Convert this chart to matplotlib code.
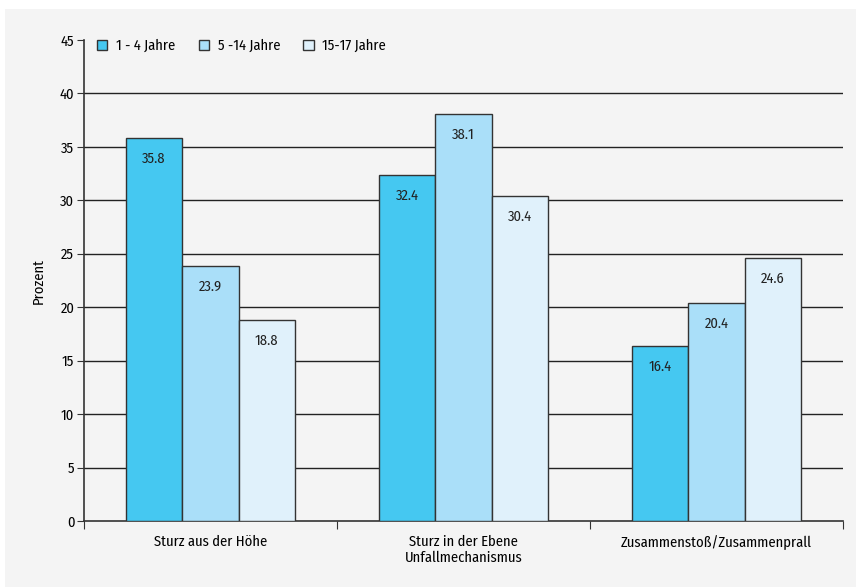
import numpy as np
import matplotlib
matplotlib.use("Agg")
import matplotlib.pyplot as plt
from matplotlib.patches import Rectangle

plt.rcParams["font.family"] = ["Fira Sans Condensed", "DejaVu Sans"]
plt.rcParams["font.size"] = 10.5

categories = ["Sturz aus der Höhe", "Sturz in der Ebene", "Zusammenstoß/Zusammenprall"]
groups = ["1 - 4 Jahre", "5 -14 Jahre", "15-17 Jahre"]
age_1_4 = [35.8, 32.4, 16.4]
age_5_14 = [23.9, 38.1, 20.4]
age_15_17 = [18.8, 30.4, 24.6]
colors = ["#45c8f1", "#aadff9", "#e0f1fb"]

fig = plt.figure(figsize=(8.56, 5.87), dpi=100, facecolor="white")
# grey panel behind the chart
fig.patches.append(Rectangle((5 / 856, 0), 1, 1 - 9 / 587, transform=fig.transFigure,
                             facecolor="#f4f4f4", edgecolor="none", zorder=-10))

ax = fig.add_axes([84 / 856, 1 - 521 / 587, (843 - 84) / 856, (521 - 40) / 587])
ax.set_facecolor("none")

x = np.arange(len(categories))
w = 0.223
for i, (vals, lab) in enumerate(zip([age_1_4, age_5_14, age_15_17], groups)):
    bars = ax.bar(x + (i - 1) * w, vals, w, color=colors[i], edgecolor="#333333",
                  linewidth=1, label=lab, zorder=3)
    for b, v in zip(bars, vals):
        ax.annotate(f"{v:.1f}", (b.get_x() + b.get_width() / 2, v), xytext=(0, -15),
                    textcoords="offset points", ha="center", va="center",
                    color="#222222", zorder=4)

ax.set_xlim(-0.5, 2.5)
ax.set_ylim(0, 45)
ax.set_yticks(range(0, 46, 5))
for yv in range(5, 41, 5):
    ax.axhline(yv, color="#222222", linewidth=1, zorder=1)

ax.set_xticks([-0.5, 0.5, 1.5, 2.5])
ax.set_xticklabels([])
ax.set_xticks(x, minor=True)
ax.set_xticklabels(categories, minor=True)
ax.tick_params(axis="x", which="minor", length=0, pad=10)
ax.tick_params(axis="x", which="major", length=6, direction="out", color="#333333")
ax.tick_params(axis="y", length=5, direction="out", color="#333333", pad=2)

for s in ["top", "right"]:
    ax.spines[s].set_visible(False)
ax.spines["left"].set_color("#333333")
ax.spines["bottom"].set_color("#333333")
ax.spines["left"].set_linewidth(1.2)
ax.spines["bottom"].set_linewidth(1.2)

ax.set_ylabel("Prozent", labelpad=10)
ax.set_xlabel("Unfallmechanismus", labelpad=1)

ax.legend(loc="upper left", bbox_to_anchor=(0.0, 1.03), ncol=3, frameon=False,
          handlelength=0.7, handleheight=0.7, handletextpad=0.6, columnspacing=1.6)

fig.savefig("out.png", dpi=100, facecolor="white")
